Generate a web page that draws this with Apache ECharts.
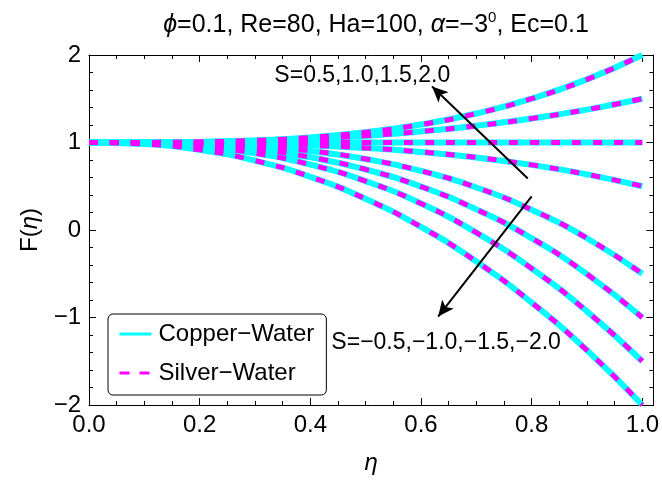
<!DOCTYPE html>
<html>
<head>
<meta charset="utf-8">
<script src="https://cdn.jsdelivr.net/npm/echarts@6/dist/echarts.min.js"></script>
<style>
  html, body { margin: 0; padding: 0; background: #fff; }
  #chart { width: 662px; height: 481px; }
</style>
</head>
<body>
<div id="chart"></div>
<script>
// Similarity variable across the channel
const eta = [0, 0.1, 0.2, 0.3, 0.4, 0.5, 0.6, 0.7, 0.8, 0.9, 1.0];

// Velocity profiles F(eta) for each stretching/shrinking parameter S
const fS2p0  = [1, 1.001, 1.007, 1.024, 1.058, 1.117, 1.205, 1.331, 1.501, 1.721, 2.0];
const fS1p5  = [1, 1.001, 1.006, 1.019, 1.042, 1.077, 1.126, 1.191, 1.274, 1.376, 1.5];
const fS1p0  = [1, 1, 1, 1, 1, 1, 1, 1, 1, 1, 1];
const fS0p5  = [1, 1.0, 0.996, 0.987, 0.968, 0.938, 0.892, 0.829, 0.744, 0.636, 0.5];
const fSm0p5 = [1, 0.998, 0.988, 0.960, 0.904, 0.812, 0.676, 0.486, 0.232, -0.094, -0.5];
const fSm1p0 = [1, 0.996, 0.974, 0.923, 0.832, 0.692, 0.496, 0.236, -0.094, -0.504, -1.0];
const fSm1p5 = [1, 0.992, 0.955, 0.877, 0.747, 0.558, 0.303, -0.03, -0.44, -0.93, -1.5];
const fSm2p0 = [1, 0.982, 0.916, 0.793, 0.608, 0.356, 0.035, -0.36, -0.83, -1.375, -2.0];

const profiles = [fS2p0, fS1p5, fS1p0, fS0p5, fSm0p5, fSm1p0, fSm1p5, fSm2p0];

// Tick values
const xTicks = [0.0, 0.2, 0.4, 0.6, 0.8, 1.0];
const yTicks = [-2, -1, 0, 1, 2];

const fluids = ['Copper\u2212Water', 'Silver\u2212Water'];
const fluidColors = ['#00ffff', '#ff00ff'];
const annotUpper = 'S=0.5,1.0,1.5,2.0';
const annotLower = 'S=\u22120.5,\u22121.0,\u22121.5,\u22122.0';

const FONT = 'Liberation Sans';
const chart = echarts.init(document.getElementById('chart'), null, { renderer: 'canvas' });

function pairs(arr) { return eta.map((x, i) => [x, arr[i]]); }

const series = [];
profiles.forEach((p) => {
  series.push({
    name: fluids[0], type: 'line', data: pairs(p), smooth: true, symbol: 'none',
    xAxisIndex: 0, yAxisIndex: 0,
    itemStyle: { color: fluidColors[0] },
    lineStyle: { color: fluidColors[0], width: 6 }, z: 2
  });
});
profiles.forEach((p) => {
  series.push({
    name: fluids[1], type: 'line', data: pairs(p), smooth: true, symbol: 'none',
    xAxisIndex: 0, yAxisIndex: 0,
    itemStyle: { color: fluidColors[1] },
    lineStyle: { color: fluidColors[1], width: 5, type: [9, 12] }, z: 3
  });
});

// direction arrows for increasing |S|
series[series.length - 1].markLine = {
  silent: true,
  symbol: ['none', 'arrow'],
  symbolSize: [11, 16],
  label: { show: false },
  lineStyle: { color: '#000', width: 2, type: 'solid' },
  data: [
    [{ coord: [0.793, 0.589] }, { coord: [0.620, 1.64] }],
    [{ coord: [0.800, 0.383] }, { coord: [0.631, -0.989] }]
  ]
};

const xMax = 1.02;
const tickLabelStyle = { color: '#000', fontSize: 24, fontFamily: FONT };

function xAxisDef(pos, major) {
  return {
    type: 'value', position: pos, min: 0, max: xMax,
    interval: major ? 0.2 : 0.05,
    axisLine: { show: major, onZero: false, lineStyle: { color: '#000', width: 1 } },
    axisTick: { show: true, inside: true, length: major ? 7 : 4, lineStyle: { color: '#000', width: 1 } },
    axisLabel: (major && pos === 'bottom') ? {
      show: true, margin: 8, interval: 0, showMaxLabel: false, ...tickLabelStyle,
      formatter: (v) => xTicks.some(t => Math.abs(t - v) < 1e-9) ? v.toFixed(1) : ''
    } : { show: false },
    splitLine: { show: false },
    name: (major && pos === 'bottom') ? '\u03b7' : '',
    nameLocation: 'middle', nameGap: 46,
    nameTextStyle: { color: '#000', fontSize: 24, fontStyle: 'italic', fontFamily: FONT }
  };
}

function yAxisDef(pos) {
  const left = pos === 'left';
  return {
    type: 'value', position: pos, min: -2, max: 2, interval: 1,
    axisLine: { show: true, onZero: false, lineStyle: { color: '#000', width: 1 } },
    axisTick: { show: true, inside: true, length: 7, lineStyle: { color: '#000', width: 1 } },
    minorTick: { show: true, splitNumber: 5, length: 4, lineStyle: { color: '#000', width: 1 } },
    axisLabel: left ? {
      show: true, margin: 8, ...tickLabelStyle,
      formatter: (v) => yTicks.includes(v) ? String(v).replace('-', '\u2212') : ''
    } : { show: false },
    splitLine: { show: false },
    name: left ? 'F({i|\u03b7})' : '',
    nameLocation: 'middle', nameGap: 46, nameRotate: 90,
    nameTextStyle: {
      color: '#000', fontSize: 24, fontFamily: FONT,
      rich: { i: { fontStyle: 'italic', fontSize: 24, fontFamily: FONT, color: '#000' } }
    }
  };
}

const option = {
  animation: false,
  backgroundColor: '#fff',
  title: {
    text: '{i|\u03d5}=0.1, Re=80, Ha=100, {i|\u03b1}=\u22123{s|0}, Ec=0.1',
    left: 371, top: 5, textAlign: 'center',
    textStyle: {
      color: '#000', fontSize: 25, fontWeight: 'normal', fontFamily: FONT, lineHeight: 30,
      rich: {
        i: { fontStyle: 'italic', fontSize: 25, fontFamily: FONT, color: '#000', lineHeight: 30 },
        s: { fontSize: 15, fontFamily: FONT, color: '#000', verticalAlign: 'top', lineHeight: 17 }
      }
    }
  },
  grid: { left: 89, right: 6, top: 55, bottom: 76, containLabel: false },
  xAxis: [xAxisDef('bottom', true), xAxisDef('bottom', false), xAxisDef('top', true), xAxisDef('top', false)],
  yAxis: [yAxisDef('left'), yAxisDef('right')],
  legend: {
    data: [
      { name: fluids[0], itemStyle: { opacity: 0 }, lineStyle: { width: 3, color: fluidColors[0] } },
      { name: fluids[1], itemStyle: { opacity: 0 }, lineStyle: { width: 3, color: fluidColors[1], type: [10, 10] } }
    ],
    orient: 'vertical', left: 108, top: 314,
    itemWidth: 32, itemHeight: 14, itemGap: 15,
    padding: [8, 12, 10, 10],
    borderColor: '#000', borderWidth: 1, borderRadius: 5,
    backgroundColor: '#fff',
    textStyle: { color: '#000', fontSize: 24, fontFamily: FONT, padding: [0, 0, 0, 2] },
    selectedMode: false
  },
  series: series
};

chart.setOption(option);

// Text labels placed at data coordinates
const pUp = chart.convertToPixel({ seriesIndex: 0 }, [0.335, 1.76]);
const pLo = chart.convertToPixel({ seriesIndex: 0 }, [0.438, -1.286]);
chart.setOption({
  graphic: [
    { type: 'text', x: pUp[0], y: pUp[1], style: { text: annotUpper, fill: '#000', font: '23px "Liberation Sans"', verticalAlign: 'middle' }, z: 10 },
    { type: 'text', x: pLo[0], y: pLo[1], style: { text: annotLower, fill: '#000', font: '23px "Liberation Sans"', verticalAlign: 'middle' }, z: 10 }
  ]
});
</script>
</body>
</html>
